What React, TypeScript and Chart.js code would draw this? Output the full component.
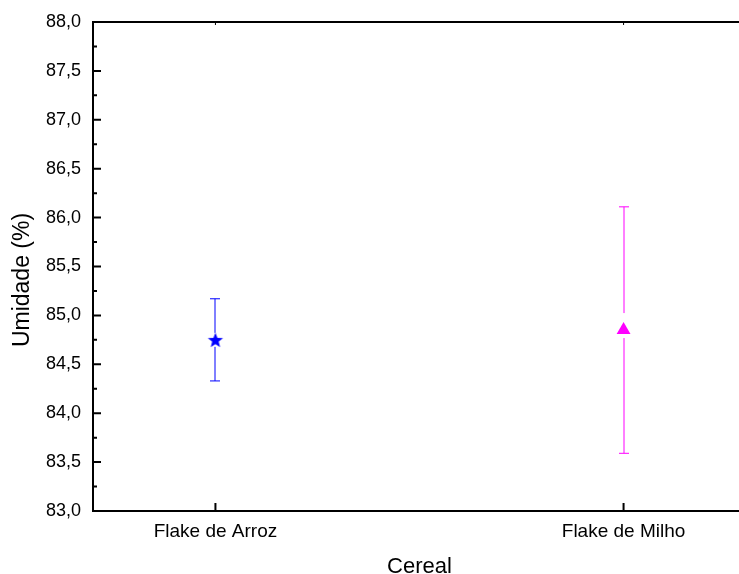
import React, { useEffect, useRef } from 'react';
import { Chart, registerables } from 'chart.js';

Chart.register(...registerables);

// Moisture content (%) per cereal flake, mean ± deviation
const categories = ['Flake de Arroz', 'Flake de Milho'];
const categoryPositions = [1, 2];
const moisture = [84.75, 84.85];
const moistureError = [0.42, 1.26];
const yTickValues = [83, 83.5, 84, 84.5, 85, 85.5, 86, 86.5, 87, 87.5, 88];
const xAxisTitle = 'Cereal';
const yAxisTitle = 'Umidade (%)';

const FONT = "'Liberation Sans', Arial, sans-serif";
const seriesColors = ['#0000ff', '#ff00ff'];
// white gap (px) left in the error line above / below each marker
const markerGaps = [
  [7, 7],
  [17, 8],
];

// plot frame is wider than the visible page; the right end is clipped
const CANVAS_W = 746;
const CANVAS_H = 574;

function makeStar(color: string, outer: number, inner: number): HTMLCanvasElement {
  const size = Math.ceil(outer * 2) + 2;
  const c = document.createElement('canvas');
  c.width = size;
  c.height = size;
  const ctx = c.getContext('2d')!;
  const cx = size / 2;
  const cy = size / 2 + 0.8;
  ctx.beginPath();
  for (let i = 0; i < 10; i++) {
    const r = i % 2 === 0 ? outer : inner;
    const a = -Math.PI / 2 + (i * Math.PI) / 5;
    const px = cx + r * Math.cos(a);
    const py = cy + r * Math.sin(a);
    if (i === 0) ctx.moveTo(px, py);
    else ctx.lineTo(px, py);
  }
  ctx.closePath();
  ctx.fillStyle = color;
  ctx.fill();
  return c;
}

const framePlugin = {
  id: 'frameAndErrors',
  beforeDatasetsDraw(chart: any) {
    const { ctx, scales } = chart;
    const xs = scales.x;
    const ys = scales.y;
    ctx.save();
    ctx.lineWidth = 1;
    categoryPositions.forEach((pos, i) => {
      // whole-pixel x gives the soft two-pixel stroke of the error lines
      const x = Math.round(xs.getPixelForValue(pos));
      const yc = ys.getPixelForValue(moisture[i]);
      const yHi = ys.getPixelForValue(moisture[i] + moistureError[i]);
      const yLo = ys.getPixelForValue(moisture[i] - moistureError[i]);
      const [gapUp, gapDown] = markerGaps[i];
      ctx.strokeStyle = seriesColors[i];
      ctx.beginPath();
      ctx.moveTo(x, yHi);
      ctx.lineTo(x, yc - gapUp);
      ctx.moveTo(x, yc + gapDown);
      ctx.lineTo(x, yLo);
      ctx.moveTo(x - 5, yHi);
      ctx.lineTo(x + 5, yHi);
      ctx.moveTo(x - 5, yLo);
      ctx.lineTo(x + 5, yLo);
      ctx.stroke();
    });
    ctx.restore();
  },
  afterDraw(chart: any) {
    const { ctx, chartArea, scales } = chart;
    const { left, right, top, bottom } = chartArea;
    const xs = scales.x;
    const ys = scales.y;
    ctx.save();
    ctx.strokeStyle = '#000';
    // top frame line
    ctx.lineWidth = 2;
    ctx.beginPath();
    ctx.moveTo(left - 1, top);
    ctx.lineTo(right, top);
    ctx.stroke();
    // y major and minor ticks, pointing inward
    ctx.beginPath();
    yTickValues.forEach((v, i) => {
      const y = ys.getPixelForValue(v);
      ctx.moveTo(left, y);
      ctx.lineTo(left + 8, y);
      if (i < yTickValues.length - 1) {
        const ym = ys.getPixelForValue((v + yTickValues[i + 1]) / 2);
        ctx.moveTo(left, ym);
        ctx.lineTo(left + 4, ym);
      }
    });
    ctx.stroke();
    // category ticks on bottom (inward) and top
    ctx.beginPath();
    categoryPositions.forEach((pos) => {
      const x = xs.getPixelForValue(pos);
      ctx.moveTo(x, bottom);
      ctx.lineTo(x, bottom - 8);
    });
    ctx.stroke();
    ctx.lineWidth = 1;
    ctx.beginPath();
    categoryPositions.forEach((pos) => {
      const x = xs.getPixelForValue(pos);
      ctx.moveTo(x, top);
      ctx.lineTo(x, top + 3);
    });
    ctx.stroke();
    // vertical axis title
    ctx.translate(23, 280);
    ctx.rotate(-Math.PI / 2);
    ctx.fillStyle = '#000';
    ctx.font = `23px ${FONT}`;
    ctx.textAlign = 'center';
    ctx.textBaseline = 'middle';
    ctx.fillText(yAxisTitle, 0, 0);
    ctx.restore();
  },
};

export default function App() {
  const canvasRef = useRef<HTMLCanvasElement | null>(null);

  useEffect(() => {
    const canvas = canvasRef.current;
    if (!canvas) return;
    const star = makeStar(seriesColors[0], 8, 3.4);
    const chart = new Chart(canvas, {
      type: 'scatter',
      data: {
        datasets: categories.map((name, i) => ({
          label: name,
          data: [{ x: categoryPositions[i], y: moisture[i] }],
          pointStyle: i === 0 ? (star as any) : 'triangle',
          pointRadius: 8,
          backgroundColor: seriesColors[i],
          borderColor: seriesColors[i],
          borderWidth: 0,
        })),
      },
      options: {
        animation: false,
        responsive: false,
        maintainAspectRatio: false,
        layout: { autoPadding: false, padding: { top: 22, right: 0, left: 0, bottom: 0 } },
        plugins: {
          legend: { display: false },
          tooltip: { enabled: false },
        },
        scales: {
          x: {
            type: 'linear',
            min: 0.7,
            max: 2.3,
            grid: { display: false, drawTicks: false },
            border: { display: true, color: '#000', width: 2 },
            afterBuildTicks: (scale: any) => {
              scale.ticks = categoryPositions.map((v) => ({ value: v }));
            },
            ticks: {
              autoSkip: false,
              maxRotation: 0,
              padding: 9,
              color: '#000',
              font: { family: FONT, size: 19 },
              callback: (value: any) => {
                const idx = categoryPositions.indexOf(Number(value));
                return idx >= 0 ? categories[idx] : '';
              },
            },
            title: {
              display: true,
              text: xAxisTitle,
              color: '#000',
              font: { family: FONT, size: 22 },
              padding: { top: 0, bottom: -6 },
            },
            afterFit: (scale: any) => {
              scale.height = 63;
              scale.paddingLeft = 0;
              scale.paddingRight = 0;
            },
          },
          y: {
            type: 'linear',
            min: 83,
            max: 88,
            grid: { display: false, drawTicks: false },
            border: { display: true, color: '#000', width: 2 },
            afterBuildTicks: (scale: any) => {
              scale.ticks = yTickValues.map((v) => ({ value: v }));
            },
            ticks: {
              padding: 12,
              color: '#000',
              font: { family: FONT, size: 18 },
              callback: (value: any) => Number(value).toFixed(1).replace('.', ','),
            },
            title: { display: false },
            afterFit: (scale: any) => {
              scale.width = 93;
              scale.paddingTop = 0;
              scale.paddingBottom = 0;
            },
          },
        },
      },
      plugins: [framePlugin],
    });
    return () => chart.destroy();
  }, []);

  return (
    <div
      style={{
        position: 'absolute',
        left: 0,
        top: 0,
        width: 739,
        height: 574,
        overflow: 'hidden',
        background: '#fff',
      }}
    >
      <canvas
        ref={canvasRef}
        width={CANVAS_W}
        height={CANVAS_H}
        style={{ width: CANVAS_W, height: CANVAS_H, display: 'block' }}
      />
    </div>
  );
}
